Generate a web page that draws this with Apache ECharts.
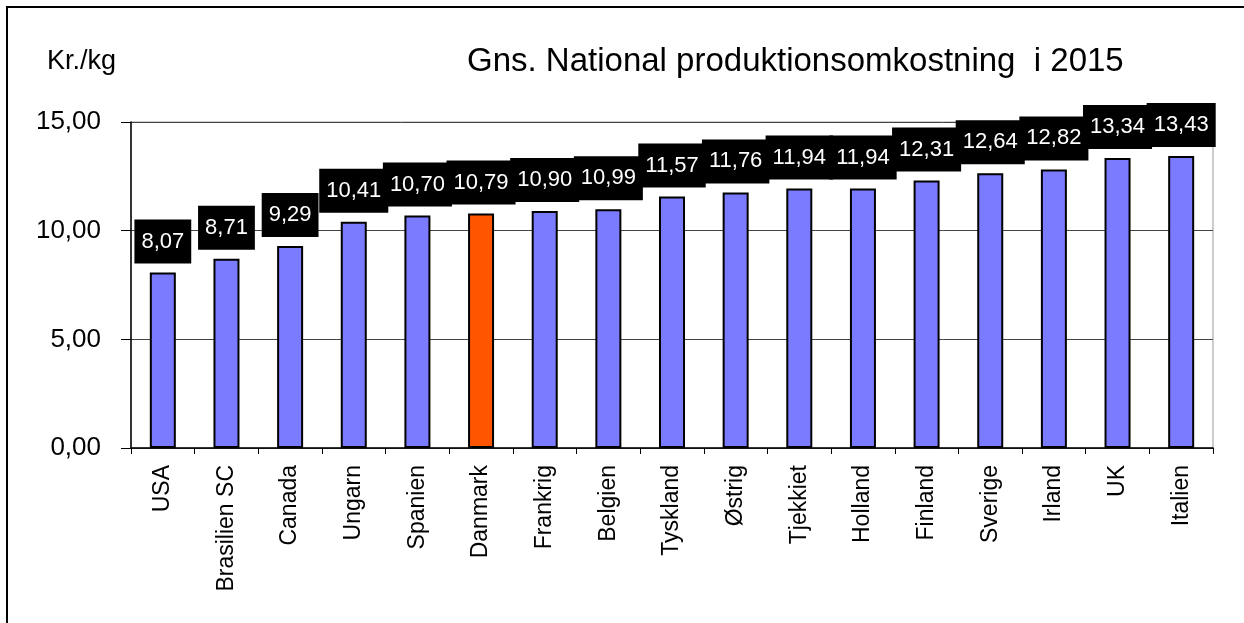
<!DOCTYPE html>
<html>
<head>
<meta charset="utf-8">
<script src="https://cdn.jsdelivr.net/npm/echarts@6/dist/echarts.min.js"></script>
<style>
  html, body { margin: 0; padding: 0; background: #fff; }
  #chart { width: 1244px; height: 623px; }
</style>
</head>
<body>
<div id="chart"></div>
<script>
// lande og omkostning (kr./kg)
const countries = ['USA', 'Brasilien SC', 'Canada', 'Ungarn', 'Spanien', 'Danmark', 'Frankrig', 'Belgien',
  'Tyskland', 'Østrig', 'Tjekkiet', 'Holland', 'Finland', 'Sverige', 'Irland', 'UK', 'Italien'];
const costs = [8.07, 8.71, 9.29, 10.41, 10.70, 10.79, 10.90, 10.99, 11.57, 11.76, 11.94, 11.94, 12.31, 12.64, 12.82, 13.34, 13.43];
const highlight = 'Danmark';
const yTicks = [0, 5, 10, 15];

const font = '"Liberation Sans", Arial, sans-serif';
const fmt = v => v.toFixed(2).replace('.', ',');

const chart = echarts.init(document.getElementById('chart'));

const option = {
  animation: false,
  backgroundColor: '#fff',
  title: [
    {
      text: 'Gns. National produktionsomkostning  i 2015',
      left: 462, top: 40,
      textStyle: { fontFamily: font, fontSize: 33, fontWeight: 'normal', color: '#000' }
    },
    {
      text: 'Kr./kg',
      left: 42, top: 43,
      textStyle: { fontFamily: font, fontSize: 27, fontWeight: 'normal', color: '#000' }
    }
  ],
  graphic: [{
    type: 'rect',
    shape: { x: 7, y: 7, width: 1400, height: 800 },
    style: { fill: 'none', stroke: '#000', lineWidth: 2 },
    silent: true
  }],
  grid: {
    left: 131, right: 31, top: 122, bottom: 175,
    show: true, borderColor: '#999', borderWidth: 1,
    containLabel: false
  },
  xAxis: {
    type: 'category',
    data: countries,
    axisLine: { lineStyle: { color: '#000', width: 1.5 } },
    axisTick: { show: true, length: 6, lineStyle: { color: '#000' } },
    axisLabel: {
      rotate: 90, margin: 17, interval: 0,
      fontFamily: font, fontSize: 23, color: '#000'
    }
  },
  yAxis: {
    type: 'value',
    min: yTicks[0], max: yTicks[yTicks.length - 1], interval: 5,
    axisLine: { show: true, lineStyle: { color: '#000', width: 1.5 } },
    axisTick: { show: true, length: 10, lineStyle: { color: '#000' } },
    splitLine: { lineStyle: { color: '#444', width: 1 } },
    axisLabel: {
      margin: 30, fontFamily: font, fontSize: 26, color: '#000',
      formatter: v => fmt(v)
    }
  },
  series: [{
    type: 'bar',
    barWidth: 26,
    data: costs.map((v, i) => ({
      value: v,
      itemStyle: { color: countries[i] === highlight ? '#FF5500' : '#7B7BFF' }
    })),
    itemStyle: { borderColor: '#000', borderWidth: 2 },
    label: {
      show: true,
      position: 'top',
      distance: 9,
      formatter: p => fmt(p.value),
      fontFamily: font, fontSize: 22, lineHeight: 22, color: '#fff',
      backgroundColor: '#000',
      padding: [11, 7]
    }
  }]
};

chart.setOption(option);
</script>
</body>
</html>
